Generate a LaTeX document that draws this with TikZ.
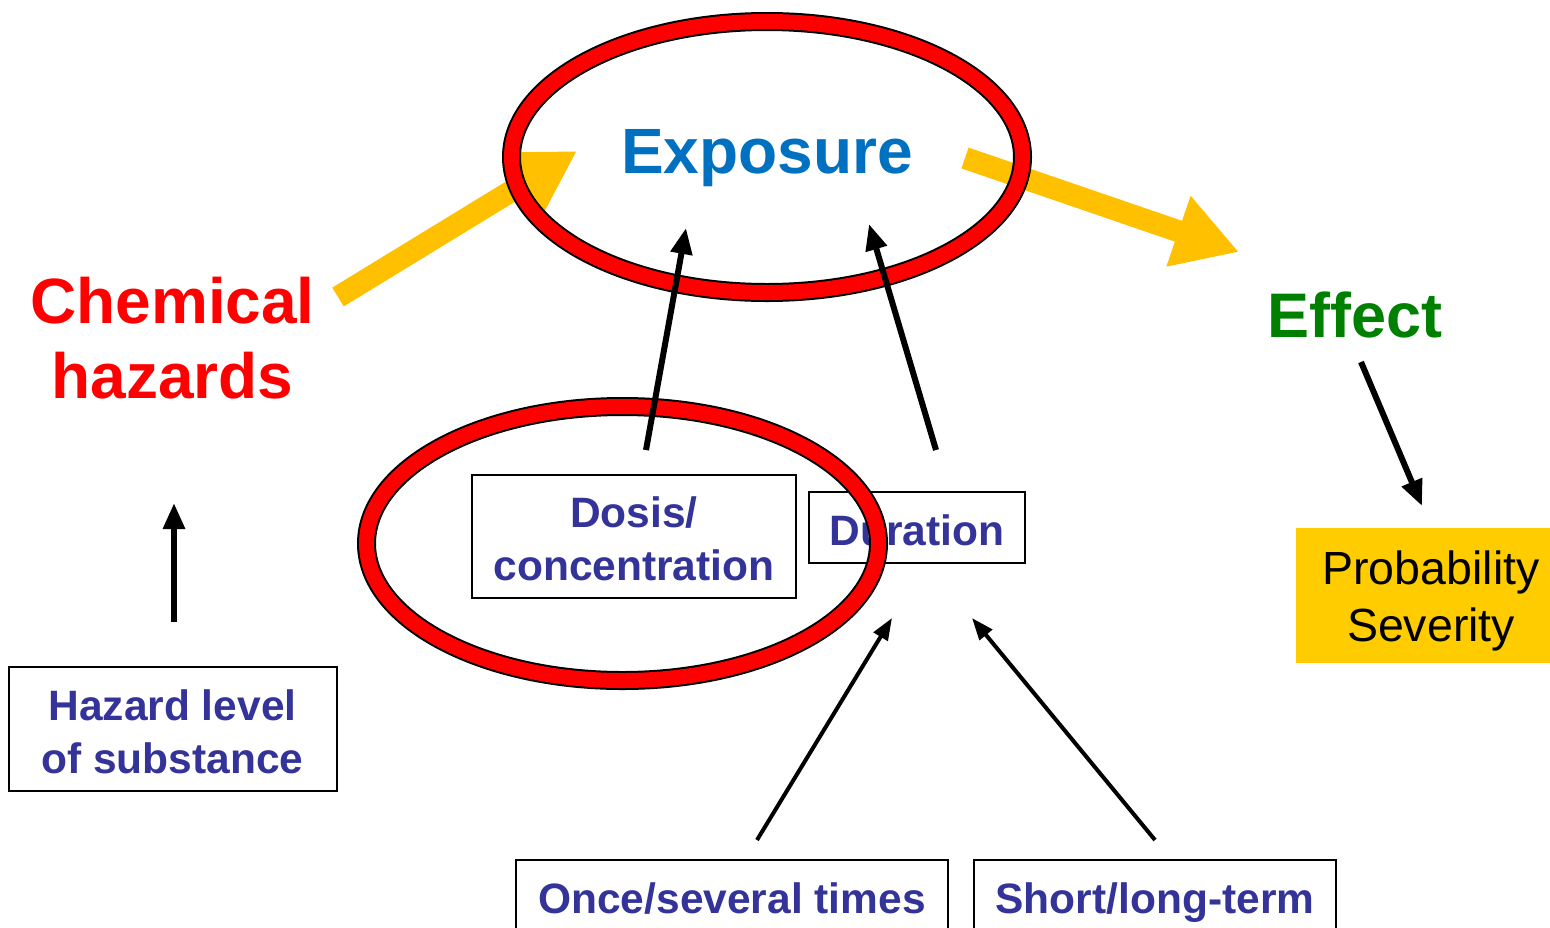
\documentclass[tikz,border=0pt]{standalone}
\usepackage{fontspec}
\setmainfont{Liberation Sans}
\usetikzlibrary{arrows.meta}
\definecolor{boxblue}{HTML}{333399}
\definecolor{expblue}{HTML}{0070C0}
\definecolor{effgreen}{HTML}{008000}
\definecolor{arrowyellow}{HTML}{FFC000}
\definecolor{boxyellow}{HTML}{FFCC00}
\definecolor{hazred}{HTML}{FF0000}
\tikzset{
  bluebox/.style={draw=black, line width=2pt, fill=white, inner sep=0pt,
    font=\bfseries\fontsize{42.5}{52.5}\selectfont, text=boxblue, align=center},
  bluetext/.style={inner sep=0pt, font=\bfseries\fontsize{42.5}{52.5}\selectfont,
    text=boxblue, align=center, anchor=base},
  blackarrow/.style={draw=black, line width=6pt, -{Triangle[width=21pt,length=26pt]}},
  thinarrow/.style={draw=black, line width=4pt, -{Triangle[width=16pt,length=22pt]}},
  fatarrow/.style={draw=arrowyellow, fill=arrowyellow, line width=22pt, -{Triangle[width=70pt,length=64pt]}},
  ringblack/.style={draw=black, line width=19pt},
  ringred/.style={draw=hazred, line width=15pt},
  bigtext/.style={font=\bfseries\fontsize{64}{75}\selectfont, inner sep=0pt, align=center}
}
\begin{document}
\begin{tikzpicture}[x=1pt,y=-1pt]
\useasboundingbox[fill=white] (0,0) rectangle (1550,927);

% coordinates for connector ends
\coordinate (chemOut) at (338,297);
\coordinate (expIn) at (577,151);
\coordinate (expOut) at (965,158);
\coordinate (effIn) at (1239,252);

% thick yellow arrows
\draw[fatarrow] (chemOut) -- (expIn);
\draw[fatarrow] (expOut) -- (effIn);

% Duration box (lies below the lower ring)
\node[bluebox, minimum width=216pt, minimum height=71pt, text height=35pt, text depth=0pt]
  (duration) at (917,527.5) {Duration};

% rings
\draw[ringblack] (767,157) ellipse [x radius=255.5, y radius=135.5];
\draw[ringred]   (767,157) ellipse [x radius=255.5, y radius=135.5];
\draw[ringblack] (622.5,543.5) ellipse [x radius=256, y radius=137];
\draw[ringred]   (622.5,543.5) ellipse [x radius=256, y radius=137];

% texts
\node[bigtext, text=expblue, anchor=base] (exposure) at (767,173) {Exposure};
\node[bigtext, text=hazred, anchor=base] (chem) at (172.5,398) {Chemical\\hazards};
\node[bigtext, text=effgreen, anchor=base, font=\bfseries\fontsize{63}{75}\selectfont] (effect) at (1355,337) {Effect};

% boxes
\node[bluebox, minimum width=324pt, minimum height=123pt] (dosis) at (634,536.5) {};
\node[bluetext] (dosistext) at (634,580) {Dosis/\\concentration};
\node[bluebox, minimum width=328pt, minimum height=124pt] (hazard) at (173,729) {};
\node[bluetext] (hazardtext) at (172.5,773) {Hazard level\\of substance};
\node[bluebox, minimum width=432pt, minimum height=75pt, text height=31pt, text depth=0pt]
  (once) at (732,897.5) {Once/several times};
\node[bluebox, minimum width=362pt, minimum height=75pt, text height=31pt, text depth=0pt]
  (short) at (1155,897.5) {Short/long-term};
\node[fill=boxyellow, inner sep=0pt, minimum width=270pt, minimum height=135pt] (prob) at (1431,595.5) {};
\node[font=\fontsize{46.5}{57}\selectfont, align=center, inner sep=0pt, anchor=base] (probtext) at (1431,641) {Probability\\Severity};

% black arrows
\coordinate (dosisTail) at (646,450);
\coordinate (dosisTip) at (686,228);
\coordinate (durTail) at (936,450);
\coordinate (durTip) at (869,224);
\coordinate (hazTail) at (174,622);
\coordinate (hazTip) at (174,503);
\coordinate (onceTail) at (757,840);
\coordinate (onceTip) at (892,618);
\coordinate (shortTail) at (1155,840);
\coordinate (shortTip) at (972,618);
\coordinate (effTail) at (1361,362);
\coordinate (effTip) at (1422,506);

\draw[blackarrow] (dosisTail) -- (dosisTip);
\draw[blackarrow] (durTail) -- (durTip);
\draw[blackarrow] (hazTail) -- (hazTip);
\draw[blackarrow] (effTail) -- (effTip);
\draw[thinarrow] (onceTail) -- (onceTip);
\draw[thinarrow] (shortTail) -- (shortTip);
\end{tikzpicture}
\end{document}
